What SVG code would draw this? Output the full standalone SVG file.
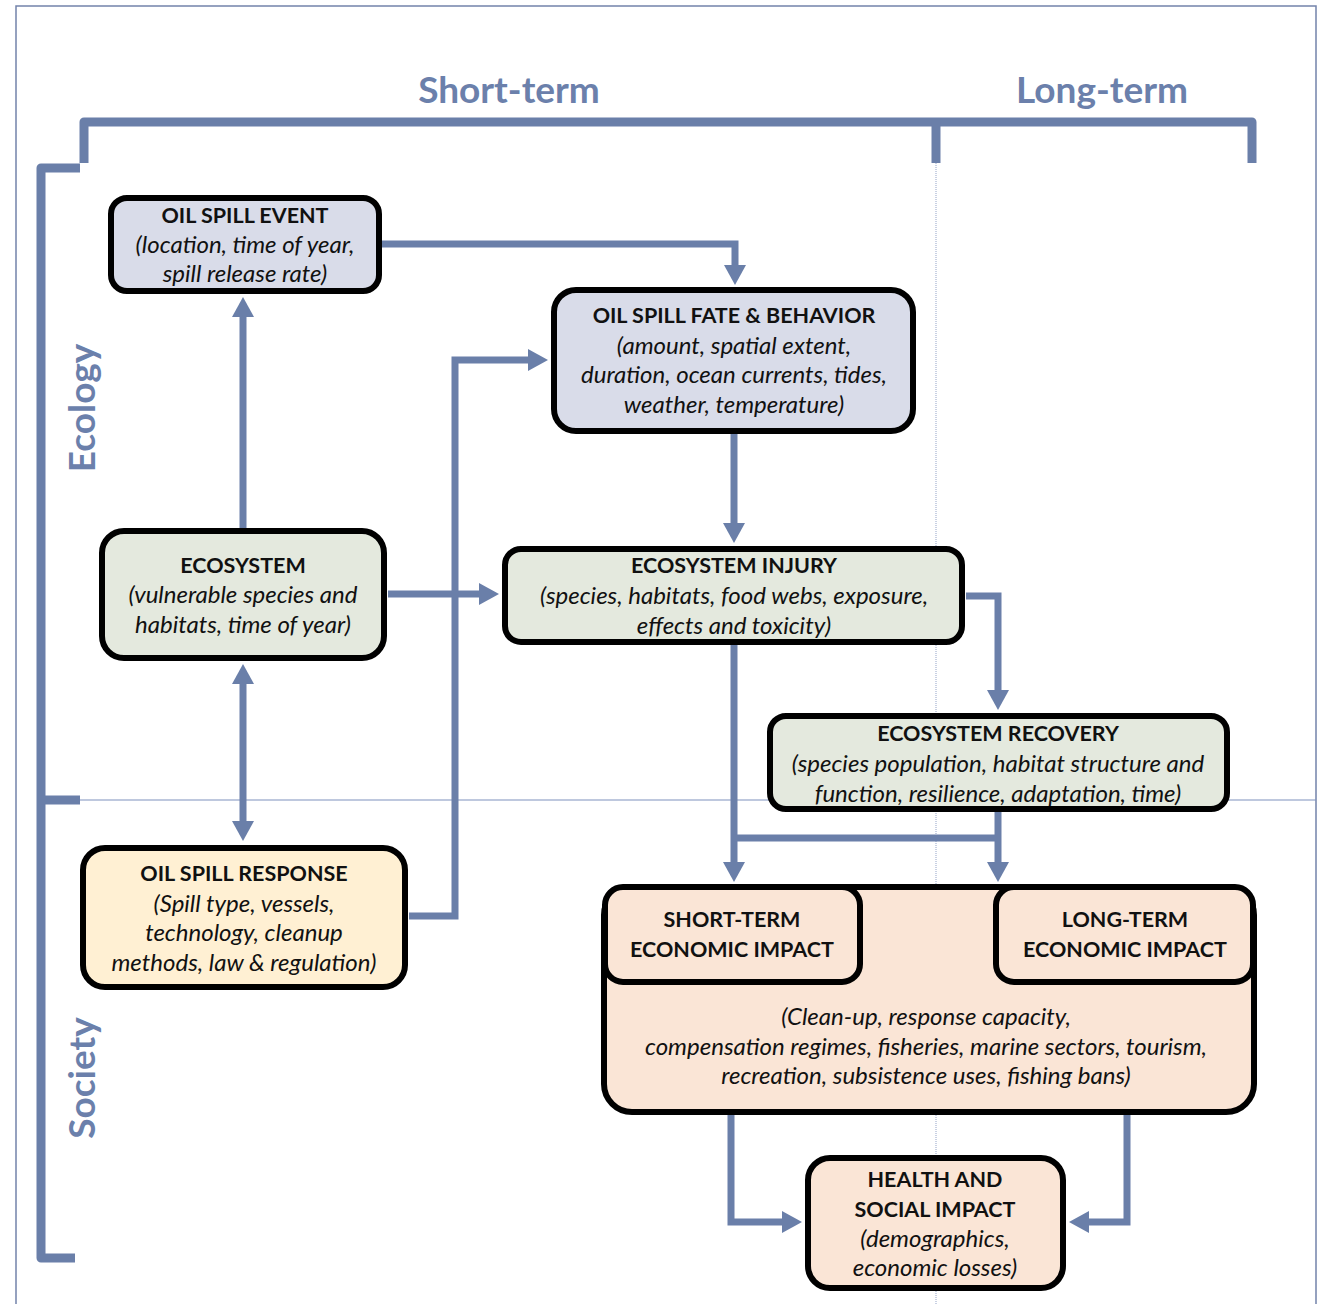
<svg xmlns="http://www.w3.org/2000/svg" width="1326" height="1304" viewBox="0 0 1326 1304">
  <style>
    .frame { fill: none; stroke: #7383aa; stroke-width: 1.5; }
    .bracket { fill: none; stroke: #6a7fa9; stroke-width: 9; stroke-linejoin: round; }
    .divider { fill: none; stroke: #7f92bd; stroke-width: 1.2; }
    .dotted { fill: none; stroke: #93a3c8; stroke-width: 1; stroke-dasharray: 1 1; }
    .axis { font-family: Lato, "Open Sans", sans-serif; font-weight: bold; font-size: 37px; fill: #6b80ab; text-anchor: middle; }
    .box { stroke: #000; stroke-width: 6; }
    .blue { fill: #d9dce9; }
    .green { fill: #e4e9de; }
    .yellow { fill: #fff0d3; }
    .peach { fill: #fae5d6; }
    .t { font-family: Lato, "Open Sans", sans-serif; font-size: 21.5px; fill: #111; text-anchor: middle; }
    .h { font-weight: bold; }
    .i { font-style: italic; font-size: 24px; }
    .conn { fill: none; stroke: #6a7fa9; stroke-width: 7; stroke-linejoin: miter; }
  </style>
  <defs>
    <marker id="arrow" viewBox="0 0 20 22" markerWidth="20" markerHeight="22" refX="1" refY="11" orient="auto-start-reverse" markerUnits="userSpaceOnUse">
      <path d="M0,0 L20,11 L0,22 z" fill="#6a7fa9"/>
    </marker>
  </defs>

  <rect width="1326" height="1304" fill="#fff"/>

  <!-- outer frame -->
  <path class="frame" d="M16,1304 V6 H1316 V1304"/>

  <!-- time and domain guides -->
  <line class="divider" x1="80" y1="800" x2="1316" y2="800"/>
  <line class="dotted" x1="936" y1="163" x2="936" y2="1304"/>

  <!-- brackets -->
  <path class="bracket" d="M84,163 V122 H1252 V163"/>
  <path class="bracket" d="M936,122 V163"/>
  <path class="bracket" d="M80,168 H41 V1258 H75"/>
  <path class="bracket" d="M41,800 H80"/>

  <!-- axis labels -->
  <text class="axis" x="509" y="103">Short-term</text>
  <text class="axis" x="1102" y="103">Long-term</text>
  <text class="axis" transform="translate(95,408) rotate(-90)">Ecology</text>
  <text class="axis" transform="translate(95,1078) rotate(-90)">Society</text>

  <!-- connectors -->
  <g id="connectors">
    <path class="conn" marker-end="url(#arrow)" d="M382,244 H735 V266"/>
    <path class="conn" marker-end="url(#arrow)" d="M243,528 V316"/>
    <path class="conn" marker-start="url(#arrow)" marker-end="url(#arrow)" d="M243,683 V822"/>
    <path class="conn" marker-end="url(#arrow)" d="M388,594 H480"/>
    <path class="conn" marker-end="url(#arrow)" d="M409,916 H455 V360 H529"/>
    <path class="conn" marker-end="url(#arrow)" d="M734,434 V524"/>
    <path class="conn" marker-end="url(#arrow)" d="M966,596 H998 V691"/>
    <path class="conn" marker-end="url(#arrow)" d="M734,645 V863"/>
    <path class="conn" marker-end="url(#arrow)" d="M998,812 V863"/>
    <path class="conn" d="M734,838 H998"/>
    <path class="conn" marker-start="url(#arrow)" marker-end="url(#arrow)" d="M883,934 H973"/>
    <path class="conn" marker-end="url(#arrow)" d="M731,1114 V1222 H783"/>
    <path class="conn" marker-end="url(#arrow)" d="M1127,1114 V1222 H1088"/>
  </g>

  <!-- nodes -->
  <g id="oil-spill-event">
    <rect class="box blue" x="111" y="198" width="268" height="93" rx="16"/>
    <text class="t h" x="245" y="223">OIL SPILL EVENT</text>
    <text class="t i" x="245" y="253">(location, time of year,</text>
    <text class="t i" x="245" y="282">spill release rate)</text>
  </g>

  <g id="oil-spill-fate">
    <rect class="box blue" x="554" y="290" width="359" height="141" rx="22"/>
    <text class="t h" x="734" y="323">OIL SPILL FATE &amp; BEHAVIOR</text>
    <text class="t i" x="734" y="354">(amount, spatial extent,</text>
    <text class="t i" x="734" y="383">duration, ocean currents, tides,</text>
    <text class="t i" x="734" y="413">weather, temperature)</text>
  </g>

  <g id="ecosystem">
    <rect class="box green" x="102" y="531" width="282" height="127" rx="22"/>
    <text class="t h" x="243" y="573">ECOSYSTEM</text>
    <text class="t i" x="243" y="603">(vulnerable species and</text>
    <text class="t i" x="243" y="633">habitats, time of year)</text>
  </g>

  <g id="ecosystem-injury">
    <rect class="box green" x="505" y="549" width="457" height="93" rx="16"/>
    <text class="t h" x="734" y="573">ECOSYSTEM INJURY</text>
    <text class="t i" x="734" y="604">(species, habitats, food webs, exposure,</text>
    <text class="t i" x="734" y="634">effects and toxicity)</text>
  </g>

  <g id="ecosystem-recovery">
    <rect class="box green" x="770" y="716" width="457" height="93" rx="16"/>
    <text class="t h" x="998" y="741">ECOSYSTEM RECOVERY</text>
    <text class="t i" x="998" y="772">(species population, habitat structure and</text>
    <text class="t i" x="998" y="802">function, resilience, adaptation, time)</text>
  </g>

  <g id="oil-spill-response">
    <rect class="box yellow" x="83" y="848" width="322" height="139" rx="22"/>
    <text class="t h" x="244" y="881">OIL SPILL RESPONSE</text>
    <text class="t i" x="244" y="912">(Spill type, vessels,</text>
    <text class="t i" x="244" y="941">technology, cleanup</text>
    <text class="t i" x="244" y="971">methods, law &amp; regulation)</text>
  </g>

  <g id="economic-impact">
    <rect class="box peach" x="604" y="887" width="650" height="225" rx="28"/>
    <text class="t i" x="926" y="1025">(Clean-up, response capacity,</text>
    <text class="t i" x="926" y="1055">compensation regimes, fisheries, marine sectors, tourism,</text>
    <text class="t i" x="926" y="1084">recreation, subsistence uses, fishing bans)</text>
  </g>

  <g id="short-term-economic-impact">
    <rect class="box peach" x="605" y="887" width="255" height="95" rx="18"/>
    <text class="t h" x="732" y="927">SHORT-TERM</text>
    <text class="t h" x="732" y="957">ECONOMIC IMPACT</text>
  </g>

  <g id="long-term-economic-impact">
    <rect class="box peach" x="996" y="887" width="257" height="95" rx="18"/>
    <text class="t h" x="1125" y="927">LONG-TERM</text>
    <text class="t h" x="1125" y="957">ECONOMIC IMPACT</text>
  </g>

  <g id="health-social-impact">
    <rect class="box peach" x="808" y="1158" width="255" height="130" rx="22"/>
    <text class="t h" x="935" y="1187">HEALTH AND</text>
    <text class="t h" x="935" y="1217">SOCIAL IMPACT</text>
    <text class="t i" x="935" y="1247">(demographics,</text>
    <text class="t i" x="935" y="1276">economic losses)</text>
  </g>
</svg>
